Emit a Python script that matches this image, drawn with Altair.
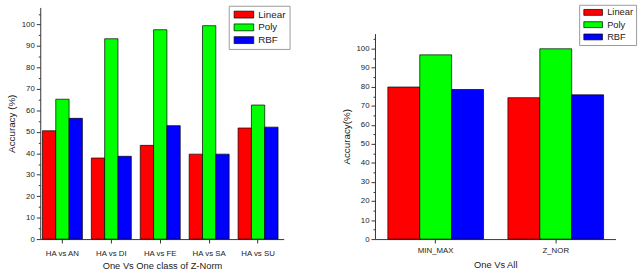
import altair as alt
import pandas as pd

series = ["Linear", "Poly", "RBF"]
colors = ["#ff0000", "#00ff00", "#0000ff"]

ovo_classes = ["HA vs AN", "HA vs DI", "HA vs FE", "HA vs SA", "HA vs SU"]
ovo_linear = [50.5, 37.8, 43.7, 39.6, 51.8]
ovo_poly = [65.2, 93.4, 97.6, 99.5, 62.5]
ovo_rbf = [56.3, 38.6, 52.9, 39.6, 52.2]

ova_classes = ["MIN_MAX", "Z_NOR"]
ova_linear = [79.9, 74.3]
ova_poly = [96.8, 100.0]
ova_rbf = [78.6, 75.8]

y_ticks = list(range(0, 106, 5))

FONT = "Liberation Sans"
H = 236


def long_df(classes, lin, pol, rbf):
    rows = []
    for i, c in enumerate(classes):
        for s, vals in zip(series, [lin, pol, rbf]):
            rows.append({"cls": c, "series": s, "acc": vals[i]})
    return pd.DataFrame(rows)


def panel(df, classes, xtitle, ytitle, w, ytop, pin, pout, align,
          lx, ly, sym_w, sym_h, lfs, lpad, rowpad, xlabpad, xtitpad):
    # legend swatch: a rectangle sym_w x sym_h, left-aligned to the entry
    r = sym_h / 2.0
    xr = (sym_w - r) / r
    sym_path = "M-1,-1L{0:.3f},-1L{0:.3f},1L-1,1Z".format(xr)
    return alt.Chart(df).mark_bar(stroke="black", strokeWidth=0.7).encode(
        x=alt.X("cls:N", sort=classes, title=xtitle,
                scale=alt.Scale(paddingInner=pin, paddingOuter=pout, align=align),
                axis=alt.Axis(labelAngle=0, tickSize=4, labelPadding=xlabpad,
                              labelFontSize=8, titleFontSize=9.5, titlePadding=xtitpad)),
        xOffset=alt.XOffset("series:N", sort=series,
                            scale=alt.Scale(paddingInner=0, paddingOuter=0)),
        y=alt.Y("acc:Q", title=ytitle,
                scale=alt.Scale(domain=[0, 108], nice=False, zero=True,
                                range=[H, ytop]),
                axis=alt.Axis(values=y_ticks,
                              labelExpr="datum.value % 10 === 0 ? datum.label : ''",
                              tickSize={"condition": {"test": "datum.value % 10 === 0", "value": 4}, "value": 2},
                              labelPadding=2, labelFontSize=8, titleFontSize=10,
                              titlePadding=5)),
        color=alt.Color("series:N", sort=series,
                        scale=alt.Scale(domain=series, range=colors),
                        legend=alt.Legend(title=None, orient="none", legendX=lx, legendY=ly,
                                          strokeColor="#999", fillColor="white",
                                          padding=lpad,
                                          symbolType=sym_path,
                                          symbolSize=sym_h * sym_h,
                                          symbolStrokeColor="black",
                                          symbolStrokeWidth=0.7, symbolOpacity=1,
                                          labelFontSize=lfs,
                                          labelOffset=sym_w - sym_h + 3,
                                          rowPadding=rowpad)),
    ).properties(width=w, height=H)


left = panel(long_df(ovo_classes, ovo_linear, ovo_poly, ovo_rbf), ovo_classes,
             "One Vs One class of Z-Norm", "Accuracy (%)", 248, 0,
             0.183, 0.08, 0.28, 192, -1.7, 20, 7, 10, 4, 3, 7, 3)
right = panel(long_df(ova_classes, ova_linear, ova_poly, ova_rbf), ova_classes,
              "One Vs All", "Accuracy(%)", 245, 26.6,
              0.203, 0.103, 0.52, 208, -2.7, 19, 6, 9.5, 3, 1.5, 4, 5)

chart = alt.hconcat(left, right, spacing=51).resolve_scale(
    x="independent", xOffset="independent", y="independent"
).resolve_legend(color="independent").properties(
    padding={"left": 6, "top": 1, "right": 4, "bottom": 2}
).configure(font=FONT).configure_view(strokeWidth=0).configure_axis(
    grid=False, domainColor="#333", tickColor="#333", labelColor="#222",
    titleColor="#222", titleFontWeight="normal", labelFont=FONT, titleFont=FONT
).configure_legend(labelFont=FONT, labelColor="#222")

chart.save("out.html", embed_options={"renderer": "svg", "actions": False})
